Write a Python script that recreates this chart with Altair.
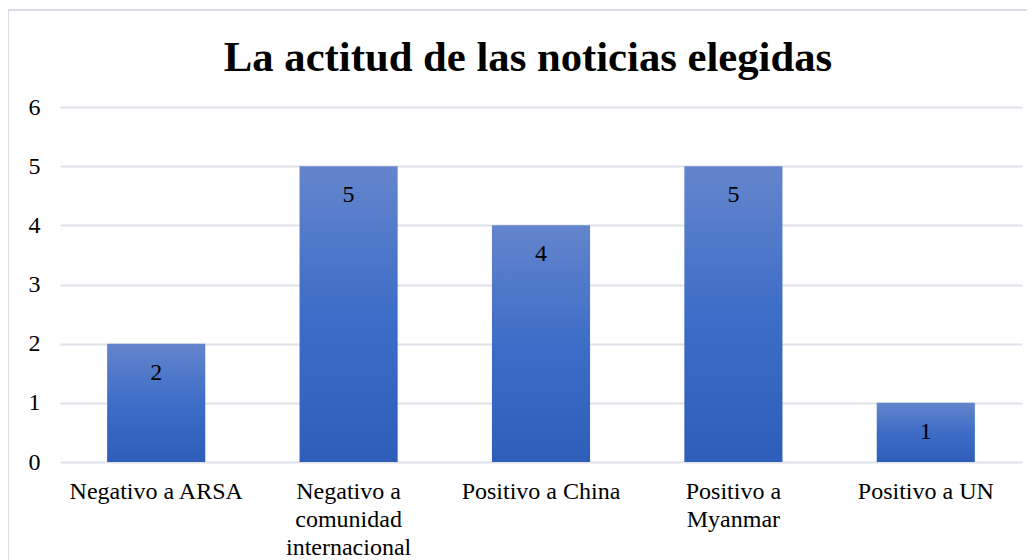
import altair as alt
import pandas as pd

categories = [
    "Negativo a ARSA",
    "Negativo a\ncomunidad\ninternacional",
    "Positivo a China",
    "Positivo a\nMyanmar",
    "Positivo a UN",
]
values = [2, 5, 4, 5, 1]
y_ticks = [0, 1, 2, 3, 4, 5, 6]
title_text = "La actitud de las noticias elegidas"

df = pd.DataFrame({"cat": categories, "val": values})
FONT = "Times New Roman, Liberation Serif, Tinos, serif"

grad = alt.Gradient(
    gradient="linear",
    x1=0, y1=0, x2=0, y2=1,
    stops=[
        alt.GradientStop(color="#6485cd", offset=0),
        alt.GradientStop(color="#3d6dc6", offset=0.5),
        alt.GradientStop(color="#2e5eb9", offset=1),
    ],
)

base = alt.Chart(df).encode(
    x=alt.X(
        "cat:N",
        sort=categories,
        scale=alt.Scale(paddingInner=0.49, paddingOuter=0.245),
        axis=alt.Axis(
            title=None,
            labelAngle=0,
            labelExpr="split(datum.label, '\\n')",
            labelFont=FONT,
            labelFontSize=24,
            labelColor="#000000",
            labelLineHeight=28,
            labelPadding=17,
            labelBaseline="top",
            ticks=False,
            domain=False,
            grid=False,
        ),
    ),
    y=alt.Y(
        "val:Q",
        scale=alt.Scale(domain=[0, 6]),
        axis=alt.Axis(
            title=None,
            values=y_ticks,
            labelFont=FONT,
            labelFontSize=24,
            labelColor="#000000",
            labelPadding=20,
            ticks=False,
            domain=False,
            gridColor="#dde1e8",
            gridWidth=2,
        ),
    ),
)

bars = base.mark_bar(color=grad)
labels = base.mark_text(
    baseline="alphabetic", dy=36, font=FONT, fontSize=24, color="#000000"
).encode(text="val:Q")

one = pd.DataFrame({"t": [title_text]})

border = alt.Chart(one).mark_rect(
    fill=None, stroke="#d9dce3", strokeWidth=2
).encode(
    x=alt.value(-52), x2=alt.value(1100),
    y=alt.value(-97), y2=alt.value(700),
)

title = alt.Chart(one).mark_text(
    font=FONT, fontSize=42.7, fontWeight="bold", color="#000000",
    align="center", baseline="alphabetic",
).encode(
    text="t:N",
    x=alt.value(468),
    y=alt.value(-36),
)

chart = alt.layer(border, bars, labels, title).properties(
    width=962,
    height=355,
    padding={"left": 52, "top": 99, "right": 5, "bottom": 98},
    autosize=alt.AutoSizeParams(type="none"),
).configure_view(stroke=None)

chart.save("out.html", embed_options={"renderer": "svg", "actions": False})
